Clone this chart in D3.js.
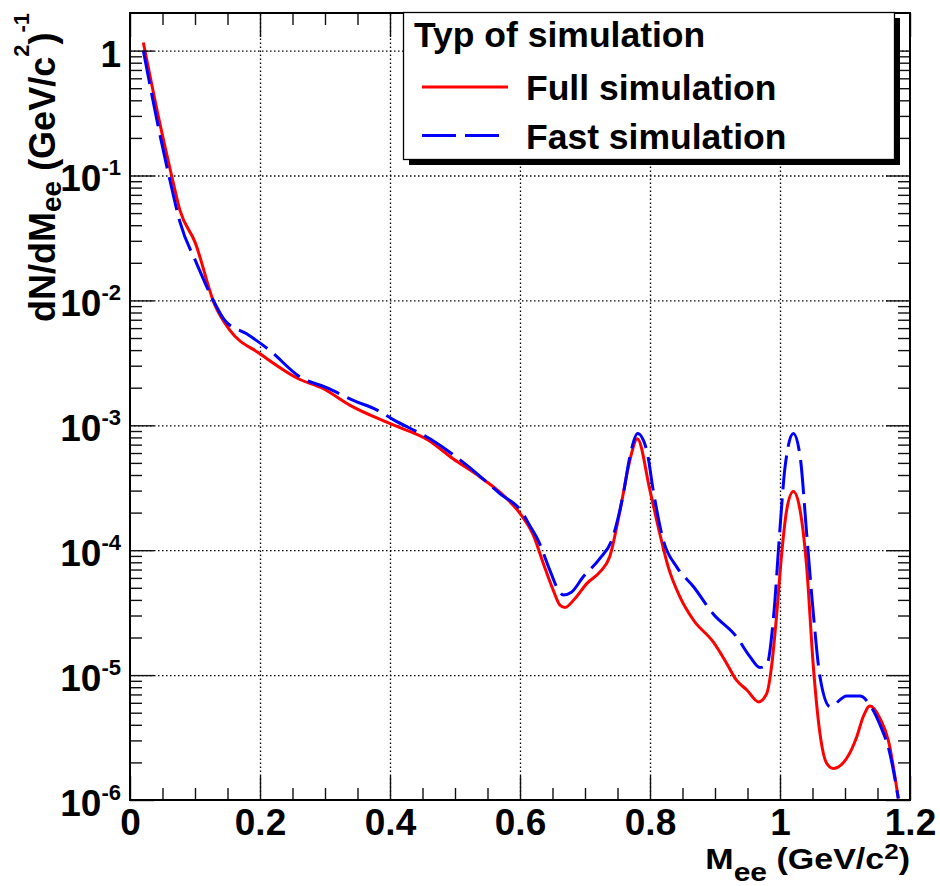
<!DOCTYPE html>
<html>
<head>
<meta charset="utf-8">
<script src="https://cdn.jsdelivr.net/npm/d3@7"></script>
<style>
	body { margin:0; background:#fff; }
	text { font-family:"Liberation Sans", Arial, Helvetica, sans-serif; font-weight:bold; fill:#000; }
</style>
</head>
<body>
<svg id="chart" width="940" height="886"></svg>
<script>
// values
var fullMass  = [0.0205,0.046,0.064,0.0769,0.1,0.1308,0.1538,0.2,0.259,0.297,0.338,0.4,0.459,0.497,0.5385,0.577,0.6,0.6205,0.636,0.651,0.6615,0.669,0.6846,0.7026,0.723,0.738,0.754,0.769,0.7805,0.8,0.815,0.828,0.846,0.867,0.897,0.918,0.933,0.949,0.967,0.9795,0.987,0.995,1.0026,1.0103,1.0205,1.0308,1.041,1.0513,1.0615,1.072,1.082,1.1026,1.118,1.128,1.1385,1.1538,1.1667,1.182];
var fullYield = [1.16,0.26,0.1,0.0525,0.0293,0.0091,0.00575,0.00374,0.00236,0.00197,0.00145,0.00103,0.00076,0.00054,3.86e-4,2.67e-4,1.97e-4,1.32e-4,7.8e-5,4.8e-5,3.63e-5,3.48e-5,4.1e-5,5.4e-5,6.7e-5,8.85e-5,2.09e-4,5.25e-4,7.8e-4,3.0e-4,1.36e-4,7.35e-5,4.23e-5,2.75e-5,1.85e-5,1.24e-5,9.1e-6,7.6e-6,6.1e-6,7.1e-6,1.17e-5,3.1e-5,9.4e-5,2.1e-4,2.95e-4,2.1e-4,7.4e-5,1.17e-5,3.4e-6,1.96e-6,1.79e-6,2.16e-6,3.2e-6,4.64e-6,5.65e-6,4.5e-6,3.0e-6,1.03e-6];

var fastMass  = [0.0205,0.0436,0.0615,0.0769,0.1026,0.1308,0.146,0.1795,0.215,0.2615,0.3026,0.3436,0.3795,0.405,0.4615,0.518,0.569,0.6026,0.615,0.628,0.646,0.659,0.6667,0.679,0.697,0.723,0.741,0.759,0.769,0.781,0.795,0.805,0.8205,0.841,0.867,0.897,0.933,0.954,0.969,0.9795,0.99,1.0,1.0077,1.0205,1.031,1.041,1.0513,1.0615,1.077,1.1026,1.123,1.138,1.1538,1.169,1.182];
var fastYield = [1.0,0.244,0.0912,0.0423,0.0197,0.0094,0.0069,0.0054,0.00398,0.00244,0.0020,0.00158,0.00133,0.00111,0.00078,0.00048,2.84e-4,2.03e-4,1.58e-4,1.2e-4,6.9e-5,4.8e-5,4.37e-5,4.6e-5,6.1e-5,8.6e-5,1.2e-4,2.84e-4,5.6e-4,8.6e-4,6.3e-4,3.0e-4,1.2e-4,7.35e-5,5.1e-5,3.1e-5,2.03e-5,1.4e-5,1.15e-5,1.2e-5,2.9e-5,1.5e-4,4.6e-4,8.6e-4,5.6e-4,1.36e-4,3.1e-5,9.7e-6,5.6e-6,6.8e-6,6.8e-6,5.8e-6,4.0e-6,2.36e-6,1.03e-6];

var massTicks  = [0,0.2,0.4,0.6,0.8,1,1.2];
var massLabels = ["0","0.2","0.4","0.6","0.8","1","1.2"];
var decadeTicks = [1e-6,1e-5,1e-4,1e-3,1e-2,1e-1,1];
var decadeExps  = ["-6","-5","-4","-3","-2","-1",""];

var legendTitle  = "Typ of simulation";
var legendLabels = ["Full simulation","Fast simulation"];
var seriesColors = ["#ff0000","#0000ff"];

var svg = d3.select('#chart');
var x = d3.scaleLinear().domain([0,1.2]).range([130,910]);
var y = d3.scaleLog().domain([1e-6,2]).range([800,13]);
var DASH = '34,9';

function strip(g){
	g.select('.domain').remove();
}

// dotted grid
var grid = svg.append('g').attr('class','grid');
grid.append('g')
	.attr('transform','translate(0,800)')
	.call(d3.axisBottom(x).tickValues(massTicks.slice(1,-1)).tickSize(-787).tickFormat(''))
	.call(strip);
grid.append('g')
	.attr('transform','translate(130,0)')
	.call(d3.axisLeft(y).tickValues(decadeTicks.slice(1)).tickSize(-780).tickFormat(''))
	.call(strip);
grid.selectAll('line')
	.attr('stroke','#000')
	.attr('stroke-width',1.3)
	.attr('stroke-dasharray','1.5,2.5');

// curves
var line = d3.line()
	.x(function(d){ return x(d[0]); })
	.y(function(d){ return y(d[1]); })
	.curve(d3.curveMonotoneX);

svg.append('path')
	.datum(d3.zip(fullMass,fullYield))
	.attr('d',line)
	.attr('fill','none')
	.attr('stroke',seriesColors[0])
	.attr('stroke-width',3);

svg.append('path')
	.datum(d3.zip(fastMass,fastYield))
	.attr('d',line)
	.attr('fill','none')
	.attr('stroke',seriesColors[1])
	.attr('stroke-width',3)
	.attr('stroke-dasharray',DASH);

// ticks on all four sides, pointing inwards
var minorX = x.ticks(24).filter(function(d){ return Math.round(d*100) % 20 != 0; });
var minorY = y.ticks().filter(function(d){ return decadeTicks.indexOf(d) < 0 && d < 2; });

function tickSet(axisFn,scale,pos,vals,len){
	svg.append('g')
		.attr('class','ticks')
		.attr('transform',pos)
		.call(axisFn(scale).tickValues(vals).tickSize(-len).tickSizeOuter(0).tickFormat(''))
		.call(strip);
}
tickSet(d3.axisBottom,x,'translate(0,800)',massTicks,24);
tickSet(d3.axisBottom,x,'translate(0,800)',minorX,12);
tickSet(d3.axisTop,x,'translate(0,13)',massTicks,24);
tickSet(d3.axisTop,x,'translate(0,13)',minorX,12);
tickSet(d3.axisLeft,y,'translate(130,0)',decadeTicks,24);
tickSet(d3.axisLeft,y,'translate(130,0)',minorY,12);
tickSet(d3.axisRight,y,'translate(910,0)',decadeTicks,24);
tickSet(d3.axisRight,y,'translate(910,0)',minorY,12);
svg.selectAll('.ticks line').attr('stroke','#111').attr('stroke-width',1.4);

// frame
svg.append('rect')
	.attr('x',130).attr('y',13)
	.attr('width',780).attr('height',787)
	.attr('fill','none')
	.attr('stroke','#000')
	.attr('stroke-width',2);

// x tick labels
svg.append('g')
	.attr('transform','translate(0,800)')
	.call(d3.axisBottom(x).tickValues(massTicks).tickSize(0).tickPadding(9)
		.tickFormat(function(d,i){ return massLabels[i]; }))
	.call(strip)
	.selectAll('text')
	.style('font-size','37px');

// y tick labels
var ylab = svg.append('g').selectAll('text')
	.data(decadeTicks)
	.enter().append('text')
	.attr('x',121)
	.attr('y',function(d){ return y(d)+16; })
	.attr('text-anchor','end')
	.style('font-size','37px');
ylab.append('tspan').text(function(d,i){ return decadeExps[i] == "" ? "1" : "10"; });
ylab.append('tspan')
	.attr('dy',-16)
	.style('font-size','22px')
	.text(function(d,i){ return decadeExps[i]; });

// x title
var xt = svg.append('g')
	.attr('transform','translate(910,869) scale(1,0.85)')
	.append('text')
	.attr('text-anchor','end')
	.style('font-size','34px');
xt.append('tspan').text('M');
xt.append('tspan').attr('dy',14).style('font-size','30px').text('ee');
xt.append('tspan').attr('dy',-14).text(' (GeV/c');
xt.append('tspan').attr('dy',-12).style('font-size','26px').text('2');
xt.append('tspan').attr('dy',12).text(')');

// y title
var yt = svg.append('g')
	.attr('transform','translate(55,13) rotate(-90)')
	.append('text')
	.attr('text-anchor','end')
	.style('font-size','36px');
yt.append('tspan').text('dN/dM');
yt.append('tspan').attr('dy',6).style('font-size','28px').text('ee');
yt.append('tspan').attr('dy',-6).text(' (GeV/c');
yt.append('tspan').attr('dy',-26).style('font-size','22px').text('2');
yt.append('tspan').attr('dy',26).text(')');
yt.append('tspan').attr('dy',-26).style('font-size','22px').text('-1');

// legend
var leg = svg.append('g').attr('class','legend');
leg.append('rect')
	.attr('x',409).attr('y',18)
	.attr('width',491).attr('height',147)
	.attr('fill','#000');
leg.append('rect')
	.attr('x',403.5).attr('y',12.5)
	.attr('width',491).attr('height',147)
	.attr('fill','#fff')
	.attr('stroke','#000')
	.attr('stroke-width',1.3);
leg.append('text')
	.attr('x',414).attr('y',47)
	.style('font-size','35.5px')
	.text(legendTitle);

var entries = leg.selectAll('g.entry')
	.data(legendLabels)
	.enter().append('g')
	.attr('class','entry')
	.attr('transform',function(d,i){ return 'translate(0,' + (i*48.5) + ')'; });
entries.append('line')
	.attr('x1',422).attr('x2',508)
	.attr('y1',87).attr('y2',87)
	.attr('stroke',function(d,i){ return seriesColors[i]; })
	.attr('stroke-width',3)
	.attr('stroke-dasharray',function(d,i){ return i == 1 ? DASH : null; });
entries.append('text')
	.attr('x',526).attr('y',100)
	.style('font-size','35.5px')
	.text(function(d){ return d; });
</script>
</body>
</html>
